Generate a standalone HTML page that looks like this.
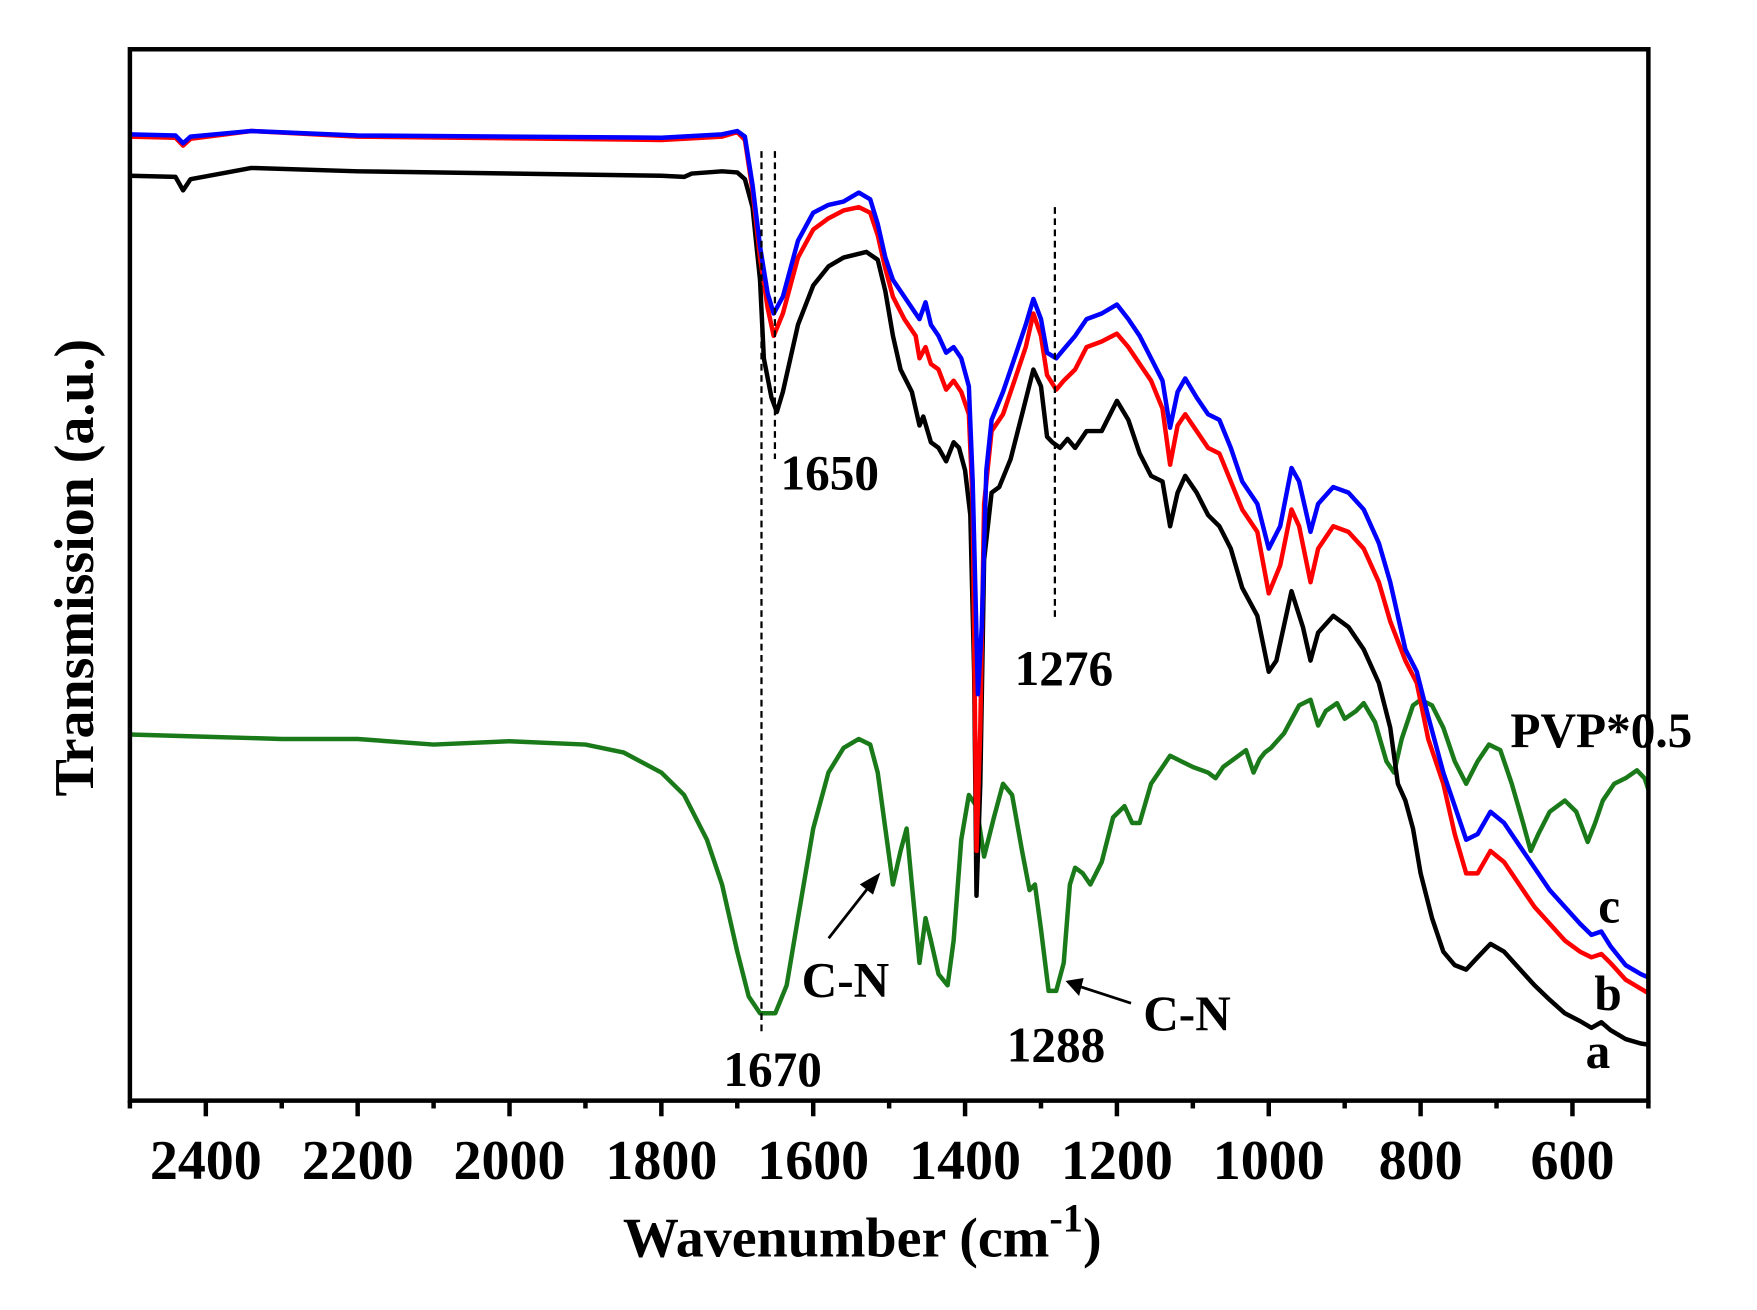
<!DOCTYPE html>
<html><head><meta charset="utf-8"><style>html,body{margin:0;padding:0;background:#fff}svg{display:block}</style></head>
<body>
<svg width="1757" height="1310" viewBox="0 0 1569 1170" preserveAspectRatio="none" xmlns="http://www.w3.org/2000/svg" font-family="Liberation Serif, serif" font-weight="bold">
<g id="plot"></g>
<rect x="116" y="44" width="1356" height="939" fill="none" stroke="#000" stroke-width="4"/>
<g id="ticks" stroke="#000" stroke-width="4"></g>
<g font-size="50" text-anchor="middle" id="tl"></g>
<text x="770" y="1122" font-size="50" text-anchor="middle">Wavenumber (cm<tspan dy="-22" font-size="36">-1</tspan><tspan dy="22">)</tspan></text>
<text transform="translate(83,507) rotate(-90)" font-size="50" text-anchor="middle">Transmission (a.u.)</text>
<g font-size="44" text-anchor="middle">
<text x="741" y="437">1650</text><text x="950" y="612">1276</text>
<text x="690" y="970">1670</text><text x="943" y="948">1288</text>
<text x="755" y="890">C-N</text><text x="1060" y="920">C-N</text>
<text x="1430" y="667">PVP*0.5</text>
<text x="1437" y="824">c</text><text x="1436" y="902">b</text><text x="1427" y="954">a</text>
</g>
<g stroke="#000" stroke-width="2.5" fill="#000">
<line x1="740" y1="838" x2="776" y2="792"/><polygon points="784,782 770,790 779,797"/>
<line x1="1010" y1="896" x2="964" y2="881"/><polygon points="954,877 966,875 963,887"/>
</g>
<g stroke="#000" stroke-width="2" stroke-dasharray="6,4">
<line x1="680" y1="135" x2="680" y2="925"/><line x1="692" y1="135" x2="692" y2="410"/><line x1="942" y1="185" x2="942" y2="555"/>
</g>
<script>
function X(w){return 116+(2500-w)*0.678;}
var S={
a:[[2500,157],[2440,158],[2430,170],[2420,160],[2340,150],[2200,153],[1800,157],[1770,158],[1760,155],[1720,153],[1700,154],[1690,160],[1680,185],[1670,250],[1665,320],[1655,355],[1648,368],[1640,350],[1620,290],[1600,255],[1580,238],[1560,230],[1530,225],[1515,232],[1505,260],[1495,300],[1485,330],[1470,350],[1460,380],[1455,372],[1445,395],[1435,400],[1425,412],[1415,395],[1408,400],[1400,420],[1393,460],[1388,600],[1385,800],[1380,700],[1375,500],[1365,440],[1355,435],[1340,410],[1325,370],[1310,330],[1300,345],[1292,390],[1285,395],[1275,400],[1265,392],[1255,400],[1240,385],[1220,385],[1200,358],[1185,375],[1170,405],[1155,425],[1140,430],[1130,470],[1120,440],[1110,425],[1095,440],[1080,460],[1065,470],[1050,490],[1035,525],[1015,550],[1000,600],[990,590],[970,528],[955,560],[945,590],[935,565],[915,550],[895,560],[875,580],[855,610],[840,650],[830,700],[820,715],[810,740],[800,780],[785,820],[770,850],[755,862],[740,866],[725,855],[708,843],[690,850],[670,865],[650,880],[630,893],[610,905],[590,912],[575,918],[562,913],[550,920],[530,928],[510,932],[500,933]],
b:[[2500,122],[2440,123],[2430,130],[2420,124],[2340,117],[2200,122],[1800,125],[1720,122],[1700,118],[1690,125],[1680,170],[1670,230],[1660,275],[1652,300],[1640,280],[1620,230],[1600,205],[1580,195],[1560,188],[1540,185],[1525,190],[1515,210],[1505,240],[1495,265],[1480,285],[1465,300],[1460,320],[1452,310],[1445,325],[1435,330],[1425,348],[1415,340],[1405,350],[1395,370],[1390,450],[1385,760],[1380,650],[1375,450],[1365,385],[1350,370],[1335,340],[1320,310],[1310,280],[1300,300],[1292,335],[1280,348],[1270,340],[1255,330],[1240,310],[1220,305],[1200,298],[1185,310],[1170,325],[1155,340],[1140,365],[1130,415],[1120,380],[1110,370],[1095,385],[1080,400],[1065,405],[1050,430],[1035,455],[1015,475],[1000,530],[985,505],[970,455],[960,470],[945,520],[935,490],[915,470],[895,475],[875,490],[855,520],[840,555],[820,590],[805,610],[790,660],[770,700],[755,745],[740,780],[725,780],[708,760],[690,770],[670,790],[650,810],[630,825],[610,840],[590,850],[575,855],[562,852],[550,860],[530,875],[510,883],[500,887]],
c:[[2500,120],[2440,121],[2430,128],[2420,122],[2340,117],[2200,121],[1800,123],[1720,120],[1700,117],[1690,122],[1680,165],[1670,220],[1660,262],[1652,280],[1640,265],[1620,215],[1600,190],[1580,183],[1560,180],[1540,172],[1525,178],[1515,200],[1505,230],[1495,250],[1480,265],[1465,280],[1460,285],[1452,270],[1445,290],[1435,300],[1425,315],[1415,310],[1405,320],[1395,345],[1390,430],[1383,620],[1378,560],[1372,420],[1365,375],[1350,350],[1335,320],[1320,290],[1310,267],[1300,285],[1292,315],[1280,320],[1270,312],[1255,300],[1240,285],[1220,280],[1200,272],[1185,285],[1170,300],[1155,320],[1140,340],[1130,382],[1120,350],[1110,338],[1095,355],[1080,370],[1065,375],[1050,400],[1035,430],[1015,450],[1000,490],[985,470],[970,418],[960,430],[945,475],[935,450],[915,435],[895,440],[875,455],[855,485],[840,520],[820,580],[805,600],[790,640],[770,690],[755,720],[740,750],[725,745],[708,725],[690,735],[670,755],[650,775],[630,795],[610,810],[590,825],[575,835],[562,832],[550,845],[530,862],[510,870],[500,873]],
g:[[2500,656],[2400,658],[2300,660],[2200,660],[2100,665],[2000,662],[1900,665],[1850,672],[1800,690],[1770,710],[1740,750],[1720,790],[1700,850],[1685,890],[1670,905],[1650,905],[1635,880],[1620,820],[1600,740],[1580,690],[1560,668],[1540,660],[1525,665],[1515,690],[1505,740],[1495,790],[1485,760],[1477,740],[1470,790],[1460,860],[1452,820],[1445,840],[1435,870],[1423,880],[1415,840],[1405,750],[1395,710],[1385,720],[1375,765],[1362,730],[1350,700],[1338,710],[1325,760],[1315,795],[1308,790],[1300,830],[1290,885],[1280,885],[1270,860],[1262,790],[1255,775],[1245,780],[1235,790],[1220,770],[1205,730],[1190,720],[1180,735],[1170,735],[1155,700],[1140,685],[1130,675],[1115,680],[1100,685],[1080,690],[1070,695],[1060,685],[1040,675],[1030,670],[1020,690],[1012,678],[1005,672],[997,668],[980,655],[960,630],[945,625],[935,648],[925,635],[910,628],[900,642],[885,635],[875,628],[860,645],[845,680],[835,690],[825,660],[810,630],[800,625],[785,630],[770,650],[755,680],[740,700],[725,680],[710,665],[695,670],[680,700],[665,735],[655,760],[645,745],[630,725],[610,715],[595,725],[580,752],[570,735],[560,715],[545,700],[530,695],[515,688],[505,695],[500,705]]};
var col={g:"#1a7a1a",a:"#000",b:"#f00",c:"#00f"};
var NS="http://www.w3.org/2000/svg",P=document.getElementById("plot");
["g","a","b","c"].forEach(function(k){var p=document.createElementNS(NS,"polyline");
p.setAttribute("points",S[k].map(function(q){return X(q[0]).toFixed(1)+","+q[1];}).join(" "));
p.setAttribute("fill","none");p.setAttribute("stroke",col[k]);p.setAttribute("stroke-width","4");p.setAttribute("stroke-linejoin","round");P.appendChild(p);});
var T=document.getElementById("ticks"),L=document.getElementById("tl");
for(var w=2500;w>=500;w-=100){var l=document.createElementNS(NS,"line");var x=X(w);
l.setAttribute("x1",x);l.setAttribute("x2",x);l.setAttribute("y1",983);l.setAttribute("y2",w%200==0?997:990);T.appendChild(l);
if(w%200==0&&w<2500){var t=document.createElementNS(NS,"text");t.setAttribute("x",x);t.setAttribute("y",1053);t.textContent=w;L.appendChild(t);}}
</script>
</svg>
</body></html>
